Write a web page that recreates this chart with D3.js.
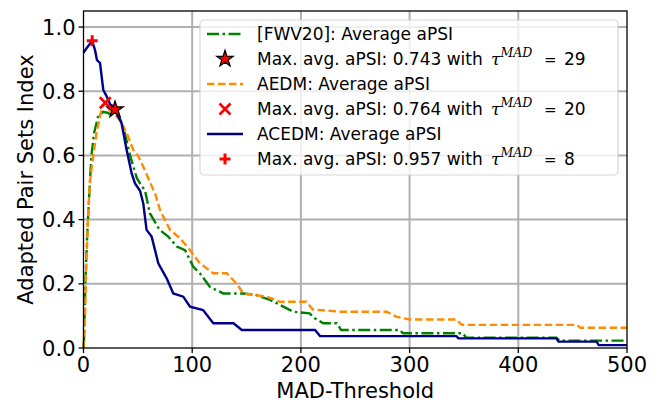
<!DOCTYPE html>
<html>
<head>
<meta charset="utf-8">
<script src="https://cdn.jsdelivr.net/npm/d3@7"></script>
<style>
  body { margin: 0; background: #fff; }
  text { font-family: "DejaVu Sans", sans-serif; }
</style>
</head>
<body>
<div id="chart"></div>
<script>
// FWV20 average aPSI (green, dash-dot)
const fwvX = [0, 0.5, 1.7, 3.2, 5, 7.2, 9.7, 13.3, 18, 22, 26, 29, 33, 36.6, 42.8, 49, 52, 56.6, 61, 70, 78, 85.8, 93.4, 101, 107, 116.4, 128.6, 147, 159, 171.6, 183.8, 193, 208, 213, 220.6, 233, 237, 291, 294, 349, 352, 435, 438, 500];
const fwvY = [0.0, 0.025, 0.2, 0.336, 0.46, 0.596, 0.669, 0.72, 0.736, 0.733, 0.725, 0.743, 0.72, 0.69, 0.6, 0.53, 0.513, 0.49, 0.42, 0.368, 0.347, 0.316, 0.305, 0.253, 0.233, 0.19, 0.17, 0.17, 0.165, 0.15, 0.129, 0.113, 0.108, 0.092, 0.077, 0.077, 0.056, 0.056, 0.046, 0.046, 0.032, 0.032, 0.023, 0.023];

// AEDM average aPSI (orange, dashed)
const aedmX = [0, 1, 2.5, 4.4, 6, 9, 12, 16.7, 20, 24, 28, 33.6, 39.7, 45.8, 50, 55, 61, 66, 70.4, 79.6, 88.8, 98, 107, 119.4, 131.8, 141, 147, 168.6, 180.8, 205, 211, 236, 279, 288, 300, 343, 348, 454, 457, 500];
const aedmY = [0.0, 0.05, 0.25, 0.43, 0.52, 0.6, 0.67, 0.747, 0.764, 0.74, 0.73, 0.71, 0.67, 0.617, 0.6, 0.565, 0.518, 0.48, 0.43, 0.368, 0.342, 0.305, 0.264, 0.233, 0.233, 0.2, 0.17, 0.16, 0.144, 0.144, 0.12, 0.113, 0.113, 0.097, 0.089, 0.089, 0.072, 0.072, 0.063, 0.063];

// ACEDM average aPSI (dark blue, solid)
const acedmX = [0, 3, 8, 10.6, 12.4, 15.2, 18.2, 20.7, 24.4, 27.4, 35, 39.7, 44.3, 47.4, 52, 55, 58, 62.7, 68.8, 76.5, 82.6, 91.8, 98, 110, 119.4, 138, 145.6, 213, 217.6, 343, 345, 435, 437, 472, 474, 500];
const acedmY = [0.92, 0.935, 0.957, 0.928, 0.897, 0.888, 0.804, 0.788, 0.76, 0.752, 0.70, 0.617, 0.544, 0.513, 0.49, 0.45, 0.368, 0.347, 0.264, 0.217, 0.17, 0.16, 0.129, 0.118, 0.077, 0.077, 0.056, 0.056, 0.037, 0.037, 0.030, 0.030, 0.02, 0.02, 0.009, 0.009];

// maxima
const maxTau = [29, 20, 8];
const maxVal = [0.743, 0.764, 0.957];

const xTicks = [0, 100, 200, 300, 400, 500];
const yTicks = [0, 0.2, 0.4, 0.6, 0.8, 1.0];

const width = 664, height = 404;
const mLeft = 83.5, mRight = 627, mTop = 11, mBottom = 348;

const x = d3.scaleLinear().domain([0, 500]).range([mLeft, mRight]);
const y = d3.scaleLinear().domain([0, 1.05]).range([mBottom, mTop]);

const svg = d3.select("#chart").append("svg")
  .attr("width", width)
  .attr("height", height);

// grid
svg.append("g").selectAll("line")
  .data(xTicks.slice(1, -1))
  .join("line")
  .attr("x1", d => x(d)).attr("x2", d => x(d))
  .attr("y1", mTop).attr("y2", mBottom)
  .attr("stroke", "#b0b0b0").attr("stroke-width", 2);
svg.append("g").selectAll("line")
  .data(yTicks.slice(1))
  .join("line")
  .attr("x1", mLeft).attr("x2", mRight)
  .attr("y1", d => y(d)).attr("y2", d => y(d))
  .attr("stroke", "#b0b0b0").attr("stroke-width", 2);

const line = d3.line().x(d => x(d[0])).y(d => y(d[1]));

const series = [
  { xs: fwvX, ys: fwvY, color: "green", dash: "12,3.5,2.5,3.5" },
  { xs: aedmX, ys: aedmY, color: "darkorange", dash: "7.5,3.5" },
  { xs: acedmX, ys: acedmY, color: "darkblue", dash: null }
];

series.forEach(s => {
  svg.append("path")
    .datum(d3.zip(s.xs, s.ys))
    .attr("d", line)
    .attr("fill", "none")
    .attr("stroke", s.color)
    .attr("stroke-width", 2.4)
    .attr("stroke-dasharray", s.dash);
});

// marker helpers
function star(g, cx, cy, size) {
  g.append("path")
    .attr("d", d3.symbol().type(d3.symbolStar).size(size)())
    .attr("transform", `translate(${cx},${cy})`)
    .attr("fill", "red").attr("stroke", "black").attr("stroke-width", 1.2);
}
function cross(g, cx, cy, r) {
  g.append("path")
    .attr("d", `M${cx - r},${cy - r}L${cx + r},${cy + r}M${cx - r},${cy + r}L${cx + r},${cy - r}`)
    .attr("stroke", "red").attr("stroke-width", 2.6);
}
function plus(g, cx, cy, r) {
  g.append("path")
    .attr("d", `M${cx - r},${cy}L${cx + r},${cy}M${cx},${cy - r}L${cx},${cy + r}`)
    .attr("stroke", "red").attr("stroke-width", 3);
}

const mk = svg.append("g");
star(mk, x(maxTau[0]), y(maxVal[0]), 85);
cross(mk, x(maxTau[1]), y(maxVal[1]), 5.5);
plus(mk, x(maxTau[2]), y(maxVal[2]), 5.5);

// spines
svg.append("rect")
  .attr("x", mLeft).attr("y", mTop)
  .attr("width", mRight - mLeft).attr("height", mBottom - mTop)
  .attr("fill", "none").attr("stroke", "black").attr("stroke-width", 1.3);

// ticks
const xAxis = svg.append("g");
xTicks.forEach(t => {
  xAxis.append("line")
    .attr("x1", x(t)).attr("x2", x(t)).attr("y1", mBottom).attr("y2", mBottom + 5)
    .attr("stroke", "black").attr("stroke-width", 1.3);
  xAxis.append("text")
    .attr("x", x(t)).attr("y", mBottom + 24)
    .attr("text-anchor", "middle").attr("font-size", 21)
    .text(t);
});
const yAxis = svg.append("g");
yTicks.forEach(t => {
  yAxis.append("line")
    .attr("x1", mLeft - 5).attr("x2", mLeft).attr("y1", y(t)).attr("y2", y(t))
    .attr("stroke", "black").attr("stroke-width", 1.3);
  yAxis.append("text")
    .attr("x", mLeft - 8).attr("y", y(t) + 7.5)
    .attr("text-anchor", "end").attr("font-size", 21)
    .text(d3.format(".1f")(t));
});

svg.append("text")
  .attr("x", (mLeft + mRight) / 2).attr("y", 398)
  .attr("text-anchor", "middle").attr("font-size", 21)
  .text("MAD-Threshold");
svg.append("text")
  .attr("transform", `translate(33,${(mTop + mBottom) / 2}) rotate(-90)`)
  .attr("text-anchor", "middle").attr("font-size", 21)
  .text("Adapted Pair Sets Index");

// legend
const lg = svg.append("g");
lg.append("rect")
  .attr("x", 200).attr("y", 20).attr("width", 418).attr("height", 155)
  .attr("rx", 4)
  .attr("fill", "white").attr("fill-opacity", 0.8)
  .attr("stroke", "#cccccc").attr("stroke-opacity", 0.8).attr("stroke-width", 1.2);

const rowY = i => 34 + i * 25;
const hx0 = 207, hx1 = 243, hxm = 225, tx = 257;
const lineLabels = ["[FWV20]: Average aPSI", "AEDM: Average aPSI", "ACEDM: Average aPSI"];

series.forEach((s, i) => {
  const ry = rowY(i * 2);
  lg.append("line")
    .attr("x1", hx0).attr("x2", hx1).attr("y1", ry).attr("y2", ry)
    .attr("stroke", s.color).attr("stroke-width", 2.4)
    .attr("stroke-dasharray", s.dash);
  lg.append("text")
    .attr("x", tx).attr("y", ry + 6).attr("font-size", 17)
    .text(lineLabels[i]);

  const my = rowY(i * 2 + 1);
  if (i === 0) star(lg, hxm, my, 85);
  if (i === 1) cross(lg, hxm, my, 5.5);
  if (i === 2) plus(lg, hxm, my, 5.5);
  const t = lg.append("text").attr("y", my + 6).attr("font-size", 17);
  t.append("tspan").attr("x", tx).text(`Max. avg. aPSI: ${d3.format(".3f")(maxVal[i])} with`);
  t.append("tspan").attr("x", 491)
    .style("font-family", "'DejaVu Serif', serif").style("font-style", "italic")
    .text("τ");
  t.append("tspan").attr("dy", -8).attr("font-size", 12.5)
    .style("font-family", "'DejaVu Serif', serif").style("font-style", "italic")
    .text("MAD");
  t.append("tspan").attr("x", 544).attr("dy", 8).attr("font-size", 15).text("=");
  t.append("tspan").attr("x", 564).text(maxTau[i]);
});
</script>
</body>
</html>
